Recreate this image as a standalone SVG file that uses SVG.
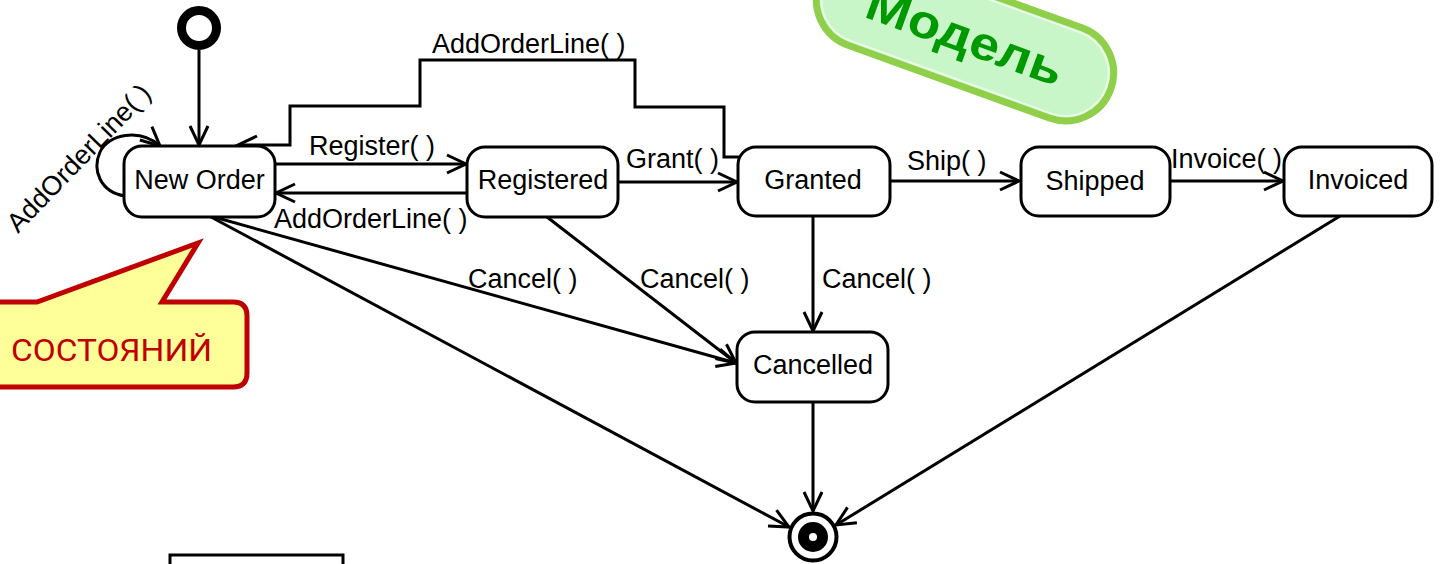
<svg xmlns="http://www.w3.org/2000/svg" width="1441" height="564" viewBox="0 0 1441 564">
<style>
.st{fill:#fff;stroke:#000;stroke-width:3}
.lbl{font-family:"Liberation Sans",Arial,sans-serif;font-size:27px;fill:#000}
.c{text-anchor:middle}
.edge{fill:none;stroke:#000;stroke-width:3}
</style>
<defs>
<marker id="arr" markerUnits="userSpaceOnUse" markerWidth="24" markerHeight="24" viewBox="-20 -12 24 24" refX="0" refY="0" orient="auto">
<path d="M-19,-9 L0,0 L-19,9" fill="none" stroke="#000" stroke-width="3" stroke-linejoin="miter"/>
</marker>
</defs>
<rect width="1441" height="564" fill="#fff"/>

<g id="model-badge" transform="translate(965,36.5) rotate(19.9)">
<rect x="-155" y="-48" width="310" height="96" rx="48" fill="#c9f6c9" stroke="#8fcf4a" stroke-width="7"/>
<rect x="-150" y="-43" width="300" height="86" rx="43" fill="none" stroke="#e9fbe6" stroke-width="2"/>
<text x="0" y="16" text-anchor="middle" font-family="Liberation Sans,Arial,sans-serif" font-weight="bold" font-size="47" fill="#009a00" textLength="206" lengthAdjust="spacingAndGlyphs">Модель</text>
</g>

<g id="callout">
<path d="M-10,302 L37,302 L198,243 L162,302 L233,302 Q247,302 247,316 L247,373 Q247,387 233,387 L-10,387 Z" fill="#ffff99" stroke="#c00000" stroke-width="5" stroke-linejoin="miter"/>
<text x="11" y="361" font-family="Roboto,Arial,sans-serif" font-size="31" fill="#c00000" textLength="201" lengthAdjust="spacingAndGlyphs">СОСТОЯНИЙ</text>
</g>

<g id="connectors">
<line class="edge" x1="199" y1="50" x2="199" y2="145" marker-end="url(#arr)"/>
<path class="edge" d="M125,196 C100,192 92,170 100,152 C108,134 140,128 160,146" marker-end="url(#arr)"/>
<text class="lbl" transform="translate(18,234) rotate(-46)">AddOrderLine( )</text>
<line class="edge" x1="275" y1="164" x2="466" y2="164" marker-end="url(#arr)"/>
<text class="lbl" x="309" y="155">Register( )</text>
<line class="edge" x1="467" y1="193" x2="276" y2="193" marker-end="url(#arr)"/>
<text class="lbl" x="274" y="228">AddOrderLine( )</text>
<path class="edge" d="M741,157 H724 V107 H635 V60 H420 V106 H290 V145 H238" marker-end="url(#arr)"/>
<text class="lbl" x="432" y="53">AddOrderLine( )</text>
<line class="edge" x1="618" y1="182" x2="737" y2="182" marker-end="url(#arr)"/>
<text class="lbl" x="626" y="168">Grant( )</text>
<line class="edge" x1="890" y1="181" x2="1019" y2="181" marker-end="url(#arr)"/>
<text class="lbl" x="907" y="170">Ship( )</text>
<line class="edge" x1="1170" y1="181" x2="1283" y2="181" marker-end="url(#arr)"/>
<text class="lbl" x="1171" y="168">Invoice( )</text>
<line class="edge" x1="813" y1="216" x2="813" y2="331" marker-end="url(#arr)"/>
<text class="lbl" x="822" y="288">Cancel( )</text>
<line class="edge" x1="547" y1="217" x2="736" y2="363" marker-end="url(#arr)"/>
<text class="lbl" x="640" y="288">Cancel( )</text>
<line class="edge" x1="214" y1="217" x2="736" y2="363" marker-end="url(#arr)"/>
<text class="lbl" x="468" y="288">Cancel( )</text>
<line class="edge" x1="211" y1="217" x2="789" y2="527" marker-end="url(#arr)"/>
<line class="edge" x1="813" y1="402" x2="813" y2="511" marker-end="url(#arr)"/>
<line class="edge" x1="1340" y1="216" x2="836" y2="525" marker-end="url(#arr)"/>
</g>

<g id="initial">
<circle cx="199" cy="28" r="17.5" fill="#fff" stroke="#000" stroke-width="9"/>
</g>
<g id="new-order">
<rect class="st" x="124" y="146" width="151" height="71" rx="18"/>
<text class="lbl c" x="199.5" y="189">New Order</text>
</g>
<g id="registered">
<rect class="st" x="467" y="147" width="151" height="70" rx="18"/>
<text class="lbl c" x="543" y="189">Registered</text>
</g>
<g id="granted">
<rect class="st" x="738" y="147" width="152" height="69" rx="18"/>
<text class="lbl c" x="813" y="189">Granted</text>
</g>
<g id="shipped">
<rect class="st" x="1021" y="147" width="149" height="69" rx="18"/>
<text class="lbl c" x="1095" y="190">Shipped</text>
</g>
<g id="invoiced">
<rect class="st" x="1284" y="147" width="148" height="69" rx="18"/>
<text class="lbl c" x="1358" y="189">Invoiced</text>
</g>
<g id="cancelled">
<rect class="st" x="737" y="332" width="151" height="70" rx="18"/>
<text class="lbl c" x="813" y="374">Cancelled</text>
</g>
<g id="final">
<circle cx="813" cy="537" r="23.5" fill="#fff" stroke="#000" stroke-width="4"/>
<circle cx="813" cy="537" r="15" fill="#000"/>
<circle cx="813" cy="537" r="4" fill="#fff"/>
</g>
<g id="partial-box">
<rect x="170" y="555" width="173" height="30" fill="none" stroke="#000" stroke-width="3"/>
</g>
</svg>
